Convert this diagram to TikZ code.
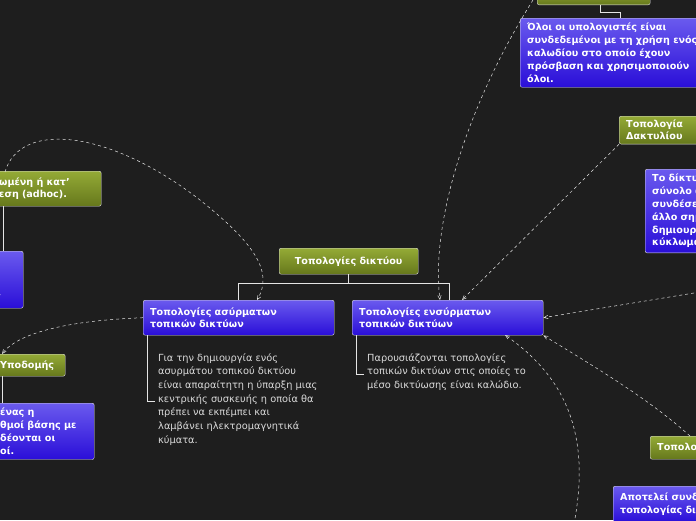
\documentclass[tikz,border=0pt]{standalone}
\usepackage{fontspec}
\setmainfont{DejaVu Sans}
\usetikzlibrary{positioning}
\usetikzlibrary{arrows}

\definecolor{bgdark}{HTML}{1E1E1E}
\definecolor{greentop}{HTML}{94AA36}
\definecolor{greenbot}{HTML}{66781C}
\definecolor{bluetop}{HTML}{6A5AEE}
\definecolor{bluebot}{HTML}{2A0ED8}
\definecolor{notetext}{HTML}{DADADA}

\tikzset{
    topic/.style={draw=white!75!gray, rounded corners=2pt, top color=greentop, bottom color=greenbot,
        text=white, font={\fontsize{9.6}{12}\selectfont\bfseries}, align=left, anchor=north west,
        inner xsep=7pt, inner ysep=4pt},
    info/.style={draw=white!75!gray, rounded corners=2pt, top color=bluetop, bottom color=bluebot,
        text=white, font={\fontsize{9.6}{12.8}\selectfont\bfseries}, align=left, anchor=north west,
        inner xsep=7pt, inner ysep=5pt},
    note/.style={text=notetext, font={\fontsize{9.8}{13.7}\selectfont}, align=left, anchor=north west, inner sep=0pt},
    tree/.style={draw=white!80!gray, line width=0.9pt},
    relation/.style={draw=white!80!gray, dashed, line width=0.5pt, -angle 45},
}

\begin{document}
\begin{tikzpicture}[x=1pt, y=-1pt]
    \fill[bgdark] (0,0) rectangle (696,520);
    \useasboundingbox (0,0) rectangle (696,520);
    \clip (0,0) rectangle (696,520);

    % main branch
    \node[topic, minimum width=139pt, minimum height=26pt, align=center] (root) at (279,248) {Τοπολογίες δικτύου};
    \node[info, text width=177pt, minimum height=35pt] (wireless) at (143,300) {Τοπολογίες ασύρματων\\τοπικών δικτύων};
    \node[info, text width=177pt, minimum height=35pt] (wired) at (352,300) {Τοπολογίες ενσύρματων\\τοπικών δικτύων};
    \node[note] (wlnote) at (158,353) {Για την δημιουργία ενός\\ασυρμάτου τοπικού δικτύου\\είναι απαραίτητη η ύπαρξη μιας\\κεντρικής συσκευής η οποία θα\\πρέπει να εκπέμπει και\\λαμβάνει ηλεκτρομαγνητικά\\κύματα.};
    \node[note] (wdnote) at (367,353) {Παρουσιάζονται τοπολογίες\\τοπικών δικτύων στις οποίες το\\μέσο δικτύωσης είναι καλώδιο.};

    \draw[tree] (root.south) -- ++(0,9) coordinate (fork) -| ([xshift=-96pt]wireless.north east);
    \draw[tree] (fork) -| ([xshift=-94pt]wired.north east);
    \draw[tree] ([xshift=4pt]wireless.south west) |- ([xshift=-3pt,yshift=-48pt]wlnote.north west);
    \draw[tree] ([xshift=4pt]wired.south west) |- ([xshift=-3pt,yshift=-21pt]wdnote.north west);

    % left side, cut off
    \node[topic, text width=95pt, minimum height=35pt] (adhoc) at (-8,171) {ωμένη ή κατ'\\εση (adhoc).};
    \node[info, text width=19pt, minimum height=57pt] (adhocinfo) at (-10,251) {\phantom{x}\\\phantom{x}\\ι};
    \node[topic, text width=58pt, minimum height=22pt] (infra) at (-7,354) {Υποδομής};
    \node[info, text width=87pt, minimum height=56pt] (infrainfo) at (-7,403) {ένας η\\θμοί βάσης με\\δέονται οι\\οί.};
    \draw[tree] (adhoc.south -| 3,0) -- (adhocinfo.north -| 3,0);
    \draw[tree] (infra.south -| 2,0) -- (infrainfo.north -| 2,0);

    % right side, cut off
    \node[topic, minimum width=113pt, minimum height=16pt, anchor=south west] (bus) at (537,5) {};
    \node[info, text width=190pt, minimum height=69pt] (businfo) at (520,18) {Όλοι οι υπολογιστές είναι\\συνδεδεμένοι με τη χρήση ενός\\καλωδίου στο οποίο έχουν\\πρόσβαση και χρησιμοποιούν\\όλοι.};
    \draw[tree] (bus.south -| 600,0) -- (600,12) -| (businfo.north -| 620,0);
    \node[topic, text width=90pt, minimum height=23pt] (ring) at (619,116) {Τοπολογία Δακτυλίου};
    \node[info, text width=60pt, minimum height=78pt] (ringinfo) at (645,169) {Το δίκτυο\\σύνολο α\\συνδέσεω\\άλλο σημ\\δημιουργ\\κύκλωμα};
    \node[topic, text width=60pt, minimum height=23pt] (hybrid) at (650,436) {Τοπολογία};
    \node[info, text width=100pt, minimum height=36pt] (hybridinfo) at (613,486) {Αποτελεί συνδ\\τοπολογίας δια};
    \coordinate (offright) at (700,292);
    \coordinate (offbottom) at (574,524);

    % relations
    \draw[relation] (5,172) .. controls (20,120) and (110,130) .. (200,200) .. controls (250,240) and (275,270) .. (257,300);
    \draw[relation] (wireless.west) .. controls (80,320) and (20,330) .. (2,354);
    \draw[relation] (533,0) .. controls (470,100) and (430,220) .. (440,300);
    \draw[relation] (ring.south west) -- (462,300);
    \draw[relation] (offright) -- (wired.east);
    \draw[relation] (690,436) .. controls (650,400) and (600,370) .. (wired.south east);
    \draw[relation] (offbottom) .. controls (590,440) and (570,380) .. (505,335);
\end{tikzpicture}
\end{document}
